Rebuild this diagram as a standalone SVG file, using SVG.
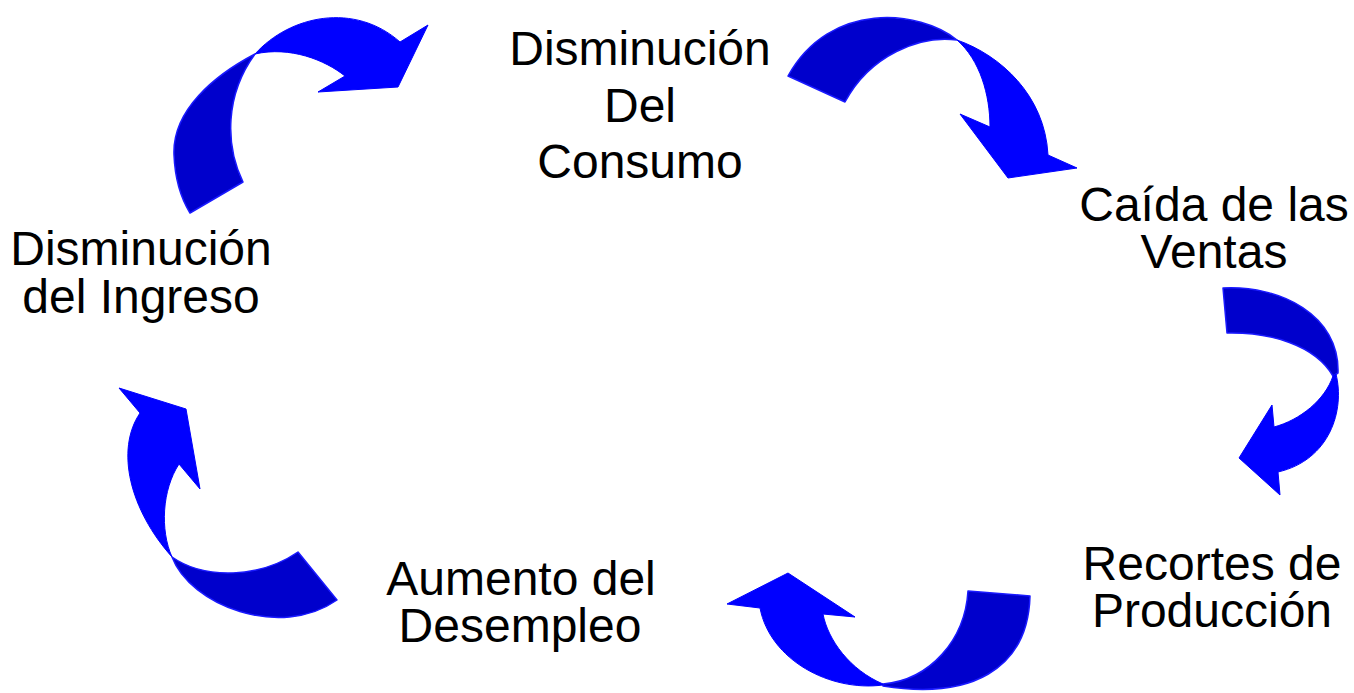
<svg xmlns="http://www.w3.org/2000/svg" width="1354" height="693" viewBox="0 0 1354 693">
<style>
.lbl{font-family:"Liberation Sans",Arial,sans-serif;font-size:48px;fill:#000;text-anchor:middle}
.front{fill:#0000FF;stroke:#0000FF;stroke-width:1;stroke-linejoin:round}
.back{fill:#0000CC;stroke:#1A1AFF;stroke-width:1.5;stroke-linejoin:round}
</style>
<rect width="1354" height="693" fill="#fff"/>
<g id="connectors">
  <g id="arrow-ingreso-consumo">
    <path class="back" d="M190,213 L243,182 C225,145 225,95 255,54 C215,75 172,110 174,155 C175,180 182,200 190,213 Z"/>
    <path class="front" d="M255,54 C290,15 355,2 400,42 L428,25 L398,87 L318,92 L345,76 C325,60 290,46 255,54 Z"/>
  </g>
  <g id="arrow-consumo-ventas">
    <path class="back" d="M788,76 L845,102 C870,55 920,35 957,40 C920,10 830,0 788,76 Z"/>
    <path class="front" d="M957,40 C1000,55 1045,95 1048,155 L1077,168 L1008,178 L960,114 L990,127 C990,95 980,60 957,40 Z"/>
  </g>
  <g id="arrow-ventas-recortes">
    <path class="back" d="M1223,288 C1280,285 1340,315 1338,373 L1333,376 C1315,345 1270,332 1227,333 Z"/>
    <path class="front" d="M1336,374 C1345,410 1330,460 1278,472 L1280,495 L1239,458 L1272,405 L1274,427 C1300,420 1325,400 1333,376 Z"/>
  </g>
  <g id="arrow-recortes-desempleo">
    <path class="back" d="M1030,596 C1028,670 970,700 883,686 L883,684 C930,680 965,640 968,591 Z"/>
    <path class="front" d="M883,685 C830,692 770,660 760,608 L727,604 L788,573 L855,617 L823,614 C828,640 850,670 883,684 Z"/>
  </g>
  <g id="arrow-desempleo-ingreso">
    <path class="back" d="M298,552 C260,578 205,580 172,557 C190,605 280,640 337,600 Z"/>
    <path class="front" d="M172,557 C130,510 115,450 140,413 L119,388 L186,409 L200,489 L179,464 C162,490 160,530 172,557 Z"/>
  </g>
</g>
<g id="node-consumo">
  <text class="lbl" x="640" y="65">Disminución</text>
  <text class="lbl" x="640" y="122">Del</text>
  <text class="lbl" x="640" y="178">Consumo</text>
</g>
<g id="node-ventas">
  <text class="lbl" x="1214" y="221">Caída de las</text>
  <text class="lbl" x="1214" y="268">Ventas</text>
</g>
<g id="node-recortes">
  <text class="lbl" x="1212" y="580">Recortes de</text>
  <text class="lbl" x="1212" y="627">Producción</text>
</g>
<g id="node-desempleo">
  <text class="lbl" x="521" y="595">Aumento del</text>
  <text class="lbl" x="520" y="642">Desempleo</text>
</g>
<g id="node-ingreso">
  <text class="lbl" x="141" y="265">Disminución</text>
  <text class="lbl" x="141" y="313">del Ingreso</text>
</g>
</svg>
